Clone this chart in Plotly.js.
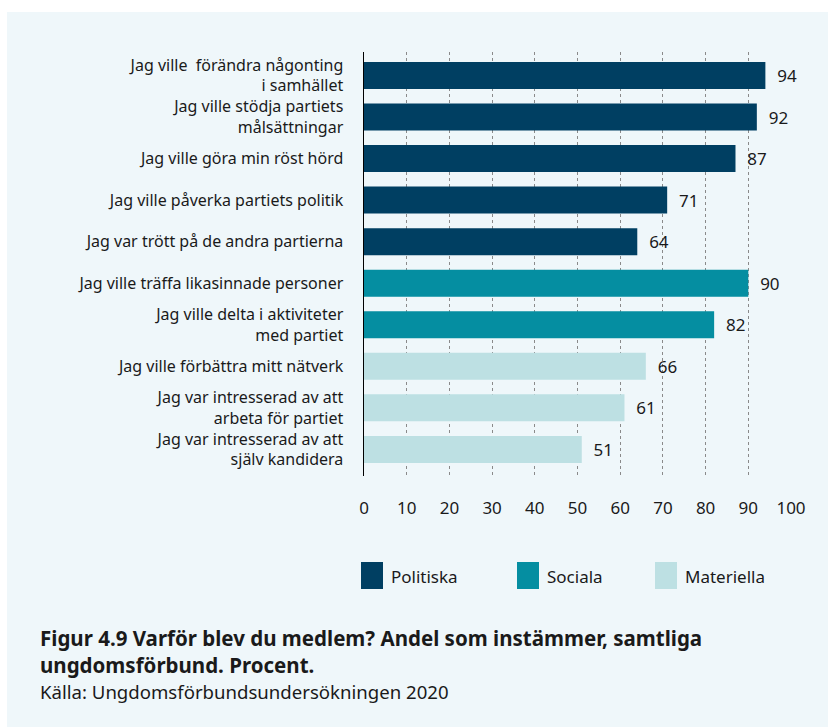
<!DOCTYPE html>
<html>
<head>
<meta charset="utf-8">
<script src="https://cdn.plot.ly/plotly-3.0.1.min.js"></script>
<style>
  html, body { margin: 0; padding: 0; background: #ffffff; }
  #chart { width: 828px; height: 727px; }
</style>
</head>
<body>
<div id="chart"></div>
<script>
// ---- data ----
const categories = [
  "Jag ville\u00a0 förändra någonting<br>i samhället",
  "Jag ville stödja partiets<br>målsättningar",
  "Jag ville göra min röst hörd",
  "Jag ville påverka partiets politik",
  "Jag var trött på de andra partierna",
  "Jag ville träffa likasinnade personer",
  "Jag ville delta i aktiviteter<br>med partiet",
  "Jag ville förbättra mitt nätverk",
  "Jag var intresserad av att<br>arbeta för partiet",
  "Jag var intresserad av att<br>själv kandidera"
];
const values = [94, 92, 87, 71, 64, 90, 82, 66, 61, 51];
const groups = ["Politiska", "Politiska", "Politiska", "Politiska", "Politiska",
                "Sociala", "Sociala", "Materiella", "Materiella", "Materiella"];
const groupNames = ["Politiska", "Sociala", "Materiella"];
const groupColors = ["#003F62", "#058EA1", "#BDE0E3"];
const xTicks = [0, 10, 20, 30, 40, 50, 60, 70, 80, 90, 100];
const titleLines = ["Figur 4.9 Varför blev du medlem? Andel som instämmer, samtliga",
                    "ungdomsförbund. Procent."];
const sourceText = "Källa: Ungdomsförbundsundersökningen 2020";

// ---- layout helpers (pixel -> paper) ----
const W = 828, H = 727, L = 364, R = 791, T = 52, B = 476;
const px = x => (x - L) / (R - L);
const py = y => (B - y) / (B - T);
const FONT = "Noto Sans, Open Sans, sans-serif";
const TXT = "#1a1a1a";

const traces = groupNames.map((g, gi) => {
  const ys = [], xs = [];
  categories.forEach((c, i) => { if (groups[i] === g) { ys.push(c); xs.push(values[i]); } });
  return {
    type: "bar",
    orientation: "h",
    name: g,
    y: ys,
    x: xs,
    marker: { color: groupColors[gi], line: { width: 0 } },
    text: xs.map(String),
    texttemplate: "\u00a0\u00a0%{text}",
    textposition: "outside",
    cliponaxis: false,
    textfont: { family: FONT, size: 17, color: TXT },
    hoverinfo: "x+y",
    showlegend: false
  };
});

// custom legend (large swatches)
const legendX = [361, 517, 655];
const shapes = [{
  type: "rect", xref: "paper", yref: "paper", layer: "below",
  x0: px(7), x1: px(828), y0: py(12), y1: py(727),
  fillcolor: "#EFF7FA", line: { width: 0 }
}];
const annotations = [];
groupNames.forEach((g, i) => {
  shapes.push({
    type: "rect", xref: "paper", yref: "paper",
    x0: px(legendX[i]), x1: px(legendX[i] + 22), y0: py(562), y1: py(589),
    fillcolor: groupColors[i], line: { width: 0 }
  });
  annotations.push({
    xref: "paper", yref: "paper", x: px(legendX[i] + 28), y: py(576),
    xanchor: "left", yanchor: "middle", showarrow: false,
    text: g, font: { family: FONT, size: 17, color: TXT }
  });
});
annotations.push({
  xref: "paper", yref: "paper", x: px(38), y: py(691),
  xanchor: "left", yanchor: "middle", showarrow: false,
  text: sourceText, font: { family: FONT, size: 18.6, color: TXT }
});

const layout = {
  width: W, height: H,
  margin: { l: L, r: W - R, t: T, b: H - B, pad: 0 },
  paper_bgcolor: "#ffffff",
  plot_bgcolor: "rgba(0,0,0,0)",
  barmode: "overlay",
  bargap: 0.35,
  showlegend: false,
  font: { family: FONT, size: 17, color: TXT },
  title: {
    text: titleLines.map(t => "<b>" + t + "</b>").join("<br>"),
    xref: "container", yref: "container",
    x: 40 / W, xanchor: "left",
    y: 1 - 646 / H, yanchor: "top",
    font: { family: FONT, size: 20.5, color: TXT }
  },
  xaxis: {
    range: [0, 100],
    tickvals: xTicks,
    ticktext: xTicks.map(String),
    showgrid: true,
    gridcolor: "#8a8a8a",
    griddash: "dot",
    gridwidth: 1,
    zeroline: false,
    showline: false,
    ticks: "",
    ticklabelstandoff: 20,
    tickfont: { family: FONT, size: 17, color: TXT },
    fixedrange: true
  },
  yaxis: {
    type: "category",
    categoryorder: "array",
    categoryarray: categories,
    range: [9.64, -0.565],
    showgrid: false,
    zeroline: false,
    showline: true,
    linecolor: "#000000",
    linewidth: 1.5,
    ticks: "",
    ticklabelstandoff: 16,
    tickfont: { family: FONT, size: 16, color: TXT },
    fixedrange: true
  },
  shapes: shapes,
  annotations: annotations
};

Plotly.newPlot("chart", traces, layout, { displayModeBar: false, staticPlot: true });
</script>
</body>
</html>
